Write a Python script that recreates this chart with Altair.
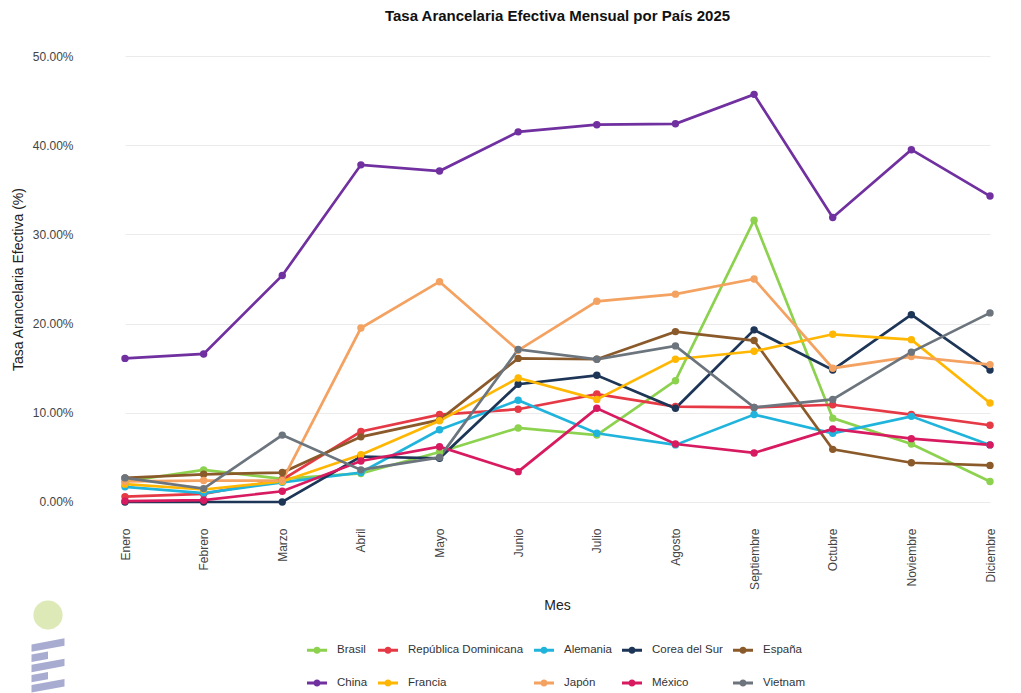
import altair as alt
import pandas as pd

meses = ["Enero", "Febrero", "Marzo", "Abril", "Mayo", "Junio", "Julio",
         "Agosto", "Septiembre", "Octubre", "Noviembre", "Diciembre"]

paises = ["Brasil", "República Dominicana", "Alemania", "Corea del Sur", "España",
          "China", "Francia", "Japón", "México", "Vietnam"]

colores = ["#8CD24E", "#E63946", "#20B4DC", "#1D3557", "#8B5A2B",
           "#7030A0", "#FFB703", "#F4A261", "#D81B60", "#6C757D"]

brasil = [2.3, 3.6, 2.6, 3.2, 5.6, 8.3, 7.5, 13.6, 31.6, 9.4, 6.5, 2.3]
rep_dominicana = [0.6, 0.9, 2.5, 7.9, 9.8, 10.4, 12.1, 10.7, 10.6, 10.9, 9.8, 8.6]
alemania = [1.7, 1.0, 2.2, 3.3, 8.1, 11.4, 7.7, 6.4, 9.8, 7.7, 9.6, 6.4]
corea = [0.0, 0.0, 0.0, 5.1, 4.9, 13.2, 14.2, 10.5, 19.3, 14.8, 21.0, 14.8]
espana = [2.7, 3.1, 3.3, 7.3, 9.2, 16.1, 16.0, 19.1, 18.1, 5.9, 4.4, 4.1]
china = [16.1, 16.6, 25.4, 37.8, 37.1, 41.5, 42.3, 42.4, 45.7, 31.9, 39.5, 34.3]
francia = [2.0, 1.4, 2.3, 5.3, 9.1, 13.9, 11.5, 16.0, 16.9, 18.8, 18.2, 11.1]
japon = [2.3, 2.4, 2.4, 19.5, 24.7, 17.0, 22.5, 23.3, 25.0, 15.0, 16.3, 15.4]
mexico = [0.1, 0.2, 1.2, 4.6, 6.2, 3.4, 10.5, 6.5, 5.5, 8.2, 7.1, 6.4]
vietnam = [2.7, 1.5, 7.5, 3.6, 5.0, 17.1, 16.0, 17.5, 10.6, 11.5, 16.8, 21.2]

series = [brasil, rep_dominicana, alemania, corea, espana,
          china, francia, japon, mexico, vietnam]

rows = []
for pais, vals in zip(paises, series):
    for mes, v in zip(meses, vals):
        rows.append({"Mes": mes, "País": pais, "Tasa": v})
df = pd.DataFrame(rows)

FONT = "Liberation Sans"
W, H = 931, 472

legend_symbol = ("M-1,-0.15L1,-0.15L1,0.15L-1,0.15Z "
                 "M0.36,0A0.36,0.36 0 1,1 -0.36,0A0.36,0.36 0 1,1 0.36,0Z")

legend = alt.Legend(
    orient="none", legendX=225, legendY=597, direction="horizontal", columns=5,
    title=None, symbolType=legend_symbol, symbolSize=400, symbolStrokeWidth=0,
    labelFont=FONT, labelFontSize=11.5, labelColor="#333333", labelOffset=10,
    columnPadding=10, rowPadding=17,
)

x_enc = alt.X(
    "Mes:N", sort=meses,
    scale=alt.Scale(type="point", range=[43, 908], padding=0),
    axis=alt.Axis(
        title="Mes", labelAngle=-90, labelAlign="right", labelBaseline="middle",
        labelPadding=13, labelFont=FONT, labelFontSize=12, labelColor="#444444",
        ticks=False, domain=False, grid=False,
        titleFont=FONT, titleFontSize=14, titleFontWeight="normal", titleColor="#222222",
        titleX=475, titleY=90, titleBaseline="middle",
    ),
)
y_enc = alt.Y(
    "Tasa:Q",
    scale=alt.Scale(domain=[-1.46, 51.46], nice=False, zero=False),
    axis=alt.Axis(
        title="Tasa Arancelaria Efectiva (%)", values=[0, 10, 20, 30, 40, 50],
        labelExpr="format(datum.value / 100, '.2%')",
        labelFont=FONT, labelFontSize=12, labelColor="#444444", labelPadding=9,
        ticks=False, domain=False, grid=True, gridColor="#EBEBEB", gridWidth=1.2,
        titleFont=FONT, titleFontSize=14, titleFontWeight="normal", titleColor="#222222",
        titleX=-64, titleY=236, titleAngle=-90, titleAlign="center", titleBaseline="middle",
    ),
)
color_enc = alt.Color("País:N", scale=alt.Scale(domain=paises, range=colores), legend=legend)

base = alt.Chart(df)
lines = base.mark_line(strokeWidth=2.7).encode(x=x_enc, y=y_enc, color=color_enc, detail="País:N")
points = base.mark_circle(size=55, opacity=1).encode(x=x_enc, y=y_enc, color=color_enc)

stripes_path = (
    "M-0.6,-0.75L0.6,-0.97L0.6,-0.70L-0.6,-0.48Z "
    "M-0.6,-0.38L0,-0.49L0,-0.22L-0.6,-0.11Z "
    "M-0.6,-0.01L0.6,-0.23L0.6,0.04L-0.6,0.26Z "
    "M-0.6,0.36L0,0.25L0,0.52L-0.6,0.63Z "
    "M-0.6,0.73L0.6,0.51L0.6,0.78L-0.6,1.0Z"
)
logo_data = alt.Data(values=[{"k": 1}])
logo_circle = alt.Chart(logo_data).mark_circle(size=855, color="#DDE9B6", opacity=1).encode(
    x=alt.value(-34), y=alt.value(572))
logo_stripes = alt.Chart(logo_data).mark_point(
    shape=stripes_path, size=3025, filled=True, color="#A9ACD1", opacity=1, strokeWidth=0
).encode(x=alt.value(-34), y=alt.value(622))

chart = alt.layer(lines, points, logo_circle, logo_stripes).properties(
    width=W, height=H,
    title=alt.TitleParams(
        "Tasa Arancelaria Efectiva Mensual por País 2025",
        font=FONT, fontSize=15, fontWeight="bold", color="#111111",
        anchor="middle", dx=10, offset=19,
    ),
    autosize=alt.AutoSizeParams(type="none"),
    padding={"left": 74, "top": 35, "right": 0, "bottom": 178},
).configure(background="white", view=alt.ViewConfig(stroke=None))

chart.save("out.html", embed_options={"renderer": "svg", "actions": False})
